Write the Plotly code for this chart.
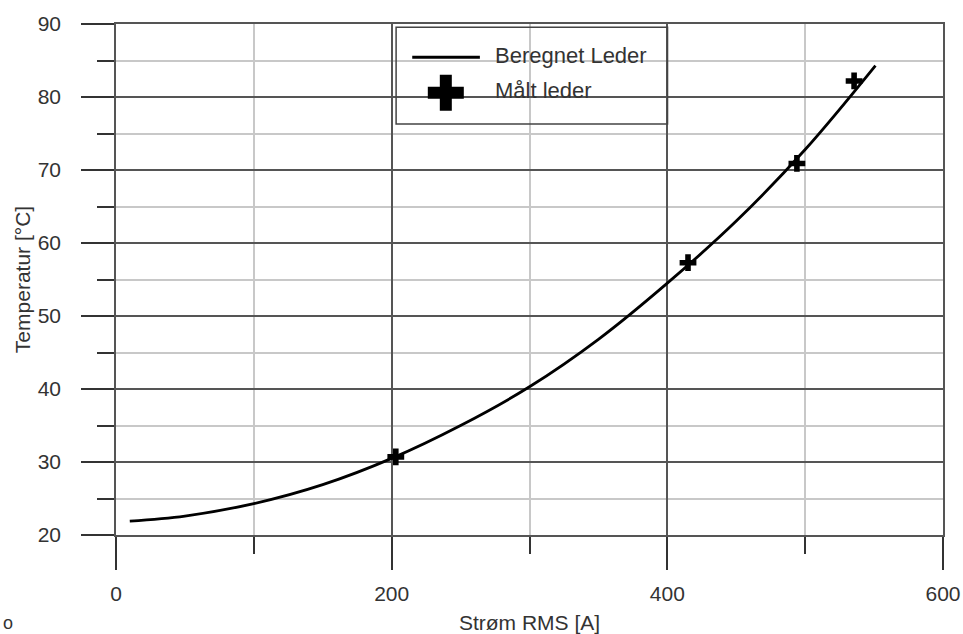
import plotly.graph_objects as go

# Beregnet leder (calculated conductor) curve
calc_current = [10, 50, 100, 150, 200, 250, 300, 350, 400, 450, 500, 551]
calc_temp = [21.9, 22.6, 24.3, 26.9, 30.5, 35.0, 40.3, 46.8, 54.5, 63.0, 72.8, 84.3]

# Målt leder (measured conductor)
meas_current = [203, 415, 494, 535.5]
meas_temp = [30.7, 57.3, 70.9, 82.2]

x_ticks = [0, 200, 400, 600]
y_ticks = [20, 30, 40, 50, 60, 70, 80, 90]

legend_labels = ["Beregnet Leder", "Målt leder"]

FONT = "Liberation Sans"
TXT = "#333333"
MAJOR = "#555555"
MINOR = "#c8c8c8"

fig = go.Figure()

fig.add_trace(go.Scatter(
    x=calc_current, y=calc_temp, mode="lines",
    line=dict(color="black", width=2.8, shape="spline", smoothing=1.0),
    name=legend_labels[0], showlegend=False,
))
fig.add_trace(go.Scatter(
    x=meas_current, y=meas_temp, mode="markers",
    marker=dict(symbol="cross", size=14, color="black", line=dict(width=0)),
    name=legend_labels[1], showlegend=False,
))

# manual legend glyph for the cross (overlay axis in 0..1 units)
fig.add_trace(go.Scatter(
    x=[0.3988], y=[0.8656], mode="markers",
    marker=dict(symbol="cross", size=30, color="black", line=dict(width=0)),
    xaxis="x2", yaxis="y2", showlegend=False, hoverinfo="skip",
))

axis_common = dict(
    showline=True, mirror=True, linecolor=MAJOR, linewidth=1.5,
    showgrid=True, gridcolor=MAJOR, gridwidth=1.5,
    zeroline=False, automargin=False,
    ticks="outside", tickcolor="#333333", tickwidth=1.5, ticklen=33,
    tickfont=dict(family=FONT, size=21, color=TXT),
)

fig.update_layout(
    width=963, height=634,
    margin=dict(l=116, r=20, t=24, b=99),
    paper_bgcolor="white", plot_bgcolor="white",
    showlegend=False,
    font=dict(family=FONT, size=21, color=TXT),
    xaxis=dict(
        range=[0, 600], tickvals=x_ticks, ticktext=[str(v) for v in x_ticks],
        ticklabelstandoff=6,
        minor=dict(dtick=100, tick0=0, ticks="outside", ticklen=17, tickcolor="#333333",
                   tickwidth=1.5, showgrid=True, gridcolor=MINOR, gridwidth=2.2),
        title=dict(text="Strøm RMS [A]", font=dict(family=FONT, size=21, color=TXT), standoff=14),
        **axis_common,
    ),
    yaxis=dict(
        range=[20, 90], tickvals=y_ticks, ticktext=[str(v) for v in y_ticks],
        ticklabelstandoff=16,
        minor=dict(dtick=5, tick0=0, ticks="outside", ticklen=17, tickcolor="#333333",
                   tickwidth=1.5, showgrid=True, gridcolor=MINOR, gridwidth=2.2),
        title=dict(text="Temperatur [°C]", font=dict(family=FONT, size=21, color=TXT), standoff=1),
        **axis_common,
    ),
    xaxis2=dict(range=[0, 1], overlaying="x", visible=False, fixedrange=True),
    yaxis2=dict(range=[0, 1], overlaying="y", visible=False, fixedrange=True),
)

# manual legend box and line sample
fig.add_shape(type="rect", xref="paper", yref="paper",
              x0=0.3387, x1=0.6669, y0=0.8044, y1=0.9935,
              line=dict(color="#444444", width=1.5), fillcolor="rgba(0,0,0,0)")
fig.add_shape(type="line", xref="paper", yref="paper",
              x0=0.3582, x1=0.4400, y0=0.9349, y1=0.9349,
              line=dict(color="black", width=3))
fig.add_annotation(xref="paper", yref="paper", x=0.4564, y=0.9374,
                   text=legend_labels[0], showarrow=False, xanchor="left", yanchor="middle",
                   font=dict(family=FONT, size=22, color=TXT))
fig.add_annotation(xref="paper", yref="paper", x=0.4564, y=0.869,
                   text=legend_labels[1], showarrow=False, xanchor="left", yanchor="middle",
                   font=dict(family=FONT, size=22, color=TXT))
fig.add_annotation(xref="paper", yref="paper", x=-0.1391, y=-0.1715,
                   text="o", showarrow=False, xanchor="left", yanchor="middle",
                   font=dict(family=FONT, size=18, color=TXT))

fig.write_html("out.html")
